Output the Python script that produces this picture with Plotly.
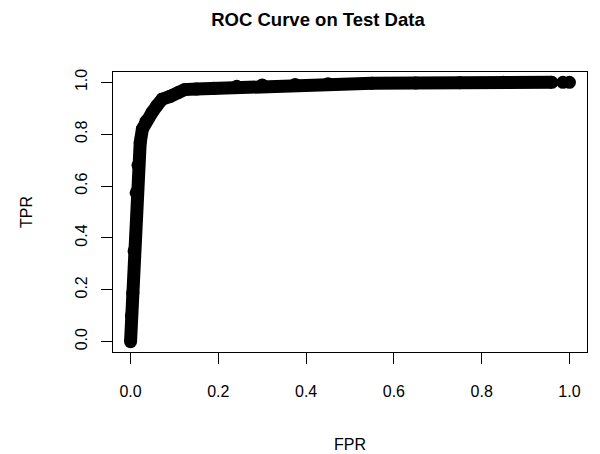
import plotly.graph_objects as go

# ROC curve points (dense part)
fpr = [0.0, 0.002, 0.005, 0.008, 0.0126, 0.017, 0.022, 0.027, 0.035, 0.049, 0.06,
       0.072, 0.09, 0.109, 0.123, 0.15, 0.19, 0.242, 0.3, 0.375, 0.45, 0.55,
       0.65, 0.75, 0.85, 0.96]
tpr = [0.0, 0.1, 0.187, 0.35, 0.574, 0.68, 0.768, 0.82, 0.85, 0.884, 0.91,
       0.935, 0.946, 0.961, 0.972, 0.974, 0.977, 0.985, 0.99, 0.992, 0.995, 0.997,
       0.998, 0.999, 1.0, 1.0]
# isolated tail points
tail_fpr = [0.985, 1.0]
tail_tpr = [1.0, 1.0]

tick_vals = [0.0, 0.2, 0.4, 0.6, 0.8, 1.0]
tick_text = ["0.0", "0.2", "0.4", "0.6", "0.8", "1.0"]

FONT = "Liberation Sans, Arial, sans-serif"
OFF = 8                      # page body margin of the html page
W, H = 600 - OFF, 454 - OFF
L, R, T, B = 113 - OFF, 13, 72 - OFF, 102
PW, PH = W - L - R, H - T - B

fig = go.Figure()
fig.add_trace(go.Scatter(x=fpr, y=tpr, mode="lines+markers",
                         line=dict(color="black", width=13),
                         marker=dict(color="black", size=13),
                         showlegend=False, hoverinfo="skip"))
fig.add_trace(go.Scatter(x=tail_fpr, y=tail_tpr, mode="markers",
                         marker=dict(color="black", size=13),
                         showlegend=False, hoverinfo="skip"))

axis_common = dict(showgrid=False, zeroline=False, showline=True, mirror=True,
                   linecolor="black", linewidth=1, ticks="outside", ticklen=11,
                   tickcolor="black", tickwidth=1,
                   tickfont=dict(family=FONT, size=16, color="black"),
                   tickvals=tick_vals, ticktext=tick_text, range=[-0.04, 1.04])

fig.update_xaxes(**axis_common, ticklabelstandoff=14)
fig.update_yaxes(**axis_common, tickangle=-90, ticklabelstandoff=8)

fig.update_layout(
    width=W, height=H,
    margin=dict(l=L, r=R, t=T, b=B, pad=0),
    plot_bgcolor="white", paper_bgcolor="white",
    title=dict(text="<b>ROC Curve on Test Data</b>",
               font=dict(family=FONT, size=18.5, color="black"),
               x=(318 - OFF) / W, xanchor="center",
               y=1 - (20 - OFF) / H, yanchor="middle"),
    annotations=[
        dict(text="FPR", xref="paper", yref="paper", x=0.5,
             y=-((444 - OFF) - (T + PH)) / PH,
             xanchor="center", yanchor="middle", showarrow=False,
             font=dict(family=FONT, size=16, color="black")),
        dict(text="TPR", xref="paper", yref="paper",
             x=-(L - (26 - OFF)) / PW, y=0.5,
             xanchor="center", yanchor="middle", showarrow=False, textangle=-90,
             font=dict(family=FONT, size=16, color="black")),
    ],
)

fig.write_html("out.html")
